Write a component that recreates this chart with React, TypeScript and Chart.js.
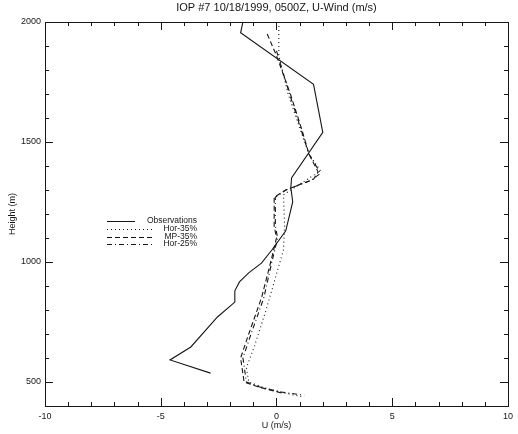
import React, { useEffect, useRef } from "react";
import { Chart, registerables } from "chart.js";

Chart.register(...registerables);

const titleText = "IOP #7 10/18/1999, 0500Z, U-Wind (m/s)";
const xTitle = "U (m/s)";
const yTitle = "Height (m)";
const xTicks = [-10, -5, 0, 5, 10];
const yTicks = [500, 1000, 1500, 2000];

const obsU = [-1.45, -1.55, 1.6, 2.0, 0.65, 0.62, 0.7, 0.4, -0.2, -0.65, -1.2, -1.6, -1.8, -1.8, -2.55, -3.7, -4.6, -2.85];
const obsH = [2000, 1955, 1740, 1540, 1350, 1310, 1250, 1130, 1050, 995, 955, 917, 880, 833, 771, 646, 592, 537];

const hor35U = [0.1, 0.1, 0.5, 1.0, 1.4, 1.9, 0.3, 0.35, 0.3, 0.0, -0.45, -0.95, -1.3, -1.2, -0.5, 0.3, 1.2];
const hor35H = [2000, 1860, 1700, 1560, 1450, 1380, 1280, 1150, 1050, 950, 800, 650, 560, 500, 475, 455, 437];

const mp35U = [-0.4, 0.0, 0.6, 1.1, 1.4, 1.8, 1.6, 0.4, -0.1, -0.1, 0.0, -0.25, -0.65, -1.2, -1.55, -1.4, -0.8, 0.0, 0.3];
const mp35H = [1950, 1860, 1700, 1550, 1450, 1375, 1345, 1300, 1270, 1150, 1100, 1000, 850, 700, 600, 500, 480, 460, 452];

const hor25U = [0.0, 0.5, 1.0, 1.4, 1.9, 1.5, 0.4, -0.05, -0.05, 0.05, -0.2, -0.55, -1.1, -1.45, -1.3, -0.6, 0.2, 1.2];
const hor25H = [1880, 1720, 1570, 1450, 1370, 1340, 1300, 1270, 1150, 1100, 1000, 850, 700, 600, 500, 475, 458, 445];

const seriesNames = ["Observations", "Hor-35%", "MP-35%", "Hor-25%"];
const seriesDash: number[][] = [[], [1, 3], [5, 3], [5, 3, 1, 3]];

const ink = "#161616";
const fontFamily = "'Liberation Sans', Arial, sans-serif";

function zip(u: number[], h: number[]) {
  return u.map((v, i) => ({ x: v, y: h[i] }));
}

const decorPlugin = {
  id: "decor",
  afterDraw(chart: any) {
    const { ctx, chartArea, scales } = chart;
    const { left, right, top, bottom } = chartArea;
    const x = scales.x;
    const y = scales.y;
    ctx.save();
    ctx.strokeStyle = ink;
    ctx.lineWidth = 1;
    ctx.strokeRect(Math.round(left) + 0.5, Math.round(top) + 0.5, Math.round(right - left), Math.round(bottom - top));
    ctx.beginPath();
    for (let u = -10; u <= 10; u += 1) {
      const px = Math.round(x.getPixelForValue(u)) + 0.5;
      const len = u % 5 === 0 ? 8 : 4;
      ctx.moveTo(px, bottom);
      ctx.lineTo(px, bottom - len);
      ctx.moveTo(px, top);
      ctx.lineTo(px, top + len);
    }
    for (let h = 400; h <= 2000; h += 100) {
      const py = Math.round(y.getPixelForValue(h)) + 0.5;
      const len = h % 500 === 0 ? 8 : 4;
      ctx.moveTo(left, py);
      ctx.lineTo(left + len, py);
      ctx.moveTo(right, py);
      ctx.lineTo(right - len, py);
    }
    ctx.stroke();

    // title
    ctx.fillStyle = ink;
    ctx.font = `11px ${fontFamily}`;
    ctx.textAlign = "center";
    ctx.textBaseline = "middle";
    ctx.fillText(titleText, (left + right) / 2, 8);

    // legend
    const rows = [221, 229, 237, 244];
    ctx.font = `8.5px ${fontFamily}`;
    ctx.textAlign = "right";
    rows.forEach((ry, i) => {
      ctx.beginPath();
      ctx.setLineDash(seriesDash[i]);
      ctx.lineWidth = 1;
      ctx.moveTo(107, ry + 0.5);
      ctx.lineTo(i === 0 ? 135 : 152, ry + 0.5);
      ctx.stroke();
      ctx.setLineDash([]);
      ctx.fillText(seriesNames[i], 197, ry);
    });
    ctx.restore();
  },
};

export default function App() {
  const ref = useRef<HTMLCanvasElement | null>(null);
  useEffect(() => {
    if (!ref.current) return;
    const mk = (label: string, u: number[], h: number[], dash: number[]) => ({
      label,
      data: zip(u, h),
      showLine: true,
      borderColor: ink,
      backgroundColor: ink,
      borderWidth: 1.1,
      borderDash: dash,
      pointRadius: 0,
      tension: 0,
    });
    const chart = new Chart(ref.current, {
      type: "scatter",
      data: {
        datasets: [
          mk(seriesNames[0], obsU, obsH, seriesDash[0]),
          mk(seriesNames[1], hor35U, hor35H, seriesDash[1]),
          mk(seriesNames[2], mp35U, mp35H, seriesDash[2]),
          mk(seriesNames[3], hor25U, hor25H, seriesDash[3]),
        ],
      },
      options: {
        responsive: false,
        animation: false,
        layout: { padding: { top: 22, right: 5, left: 0, bottom: 0 } },
        plugins: {
          legend: { display: false },
          title: { display: false },
          tooltip: { enabled: false },
        },
        scales: {
          x: {
            type: "linear",
            min: -10,
            max: 10,
            grid: { display: false, drawTicks: false },
            border: { display: false },
            afterBuildTicks: (s: any) => {
              s.ticks = xTicks.map((v) => ({ value: v }));
            },
            afterFit: (s: any) => {
              s.height = 28;
            },
            ticks: {
              color: ink,
              padding: 5,
              maxRotation: 0,
              callback: (v: any) => String(v),
              font: { family: fontFamily, size: 9 },
            },
            title: {
              display: true,
              text: xTitle,
              color: ink,
              padding: { top: 0, bottom: 3 },
              font: { family: fontFamily, size: 9 },
            },
          },
          y: {
            type: "linear",
            min: 400,
            max: 2000,
            grid: { display: false, drawTicks: false },
            border: { display: false },
            afterBuildTicks: (s: any) => {
              s.ticks = yTicks.map((v) => ({ value: v }));
            },
            afterFit: (s: any) => {
              s.width = 45;
            },
            ticks: {
              color: ink,
              padding: 4,
              callback: (v: any) => String(v),
              font: { family: fontFamily, size: 9 },
            },
            title: {
              display: true,
              text: yTitle,
              color: ink,
              padding: { top: 7, bottom: 0 },
              font: { family: fontFamily, size: 9 },
            },
          },
        },
      },
      plugins: [decorPlugin],
    });
    return () => chart.destroy();
  }, []);
  return (
    <div style={{ position: "absolute", left: 0, top: 0, width: 518, height: 434, background: "#fff" }}>
      <canvas ref={ref} width={518} height={434} style={{ width: 518, height: 434 }} />
    </div>
  );
}
